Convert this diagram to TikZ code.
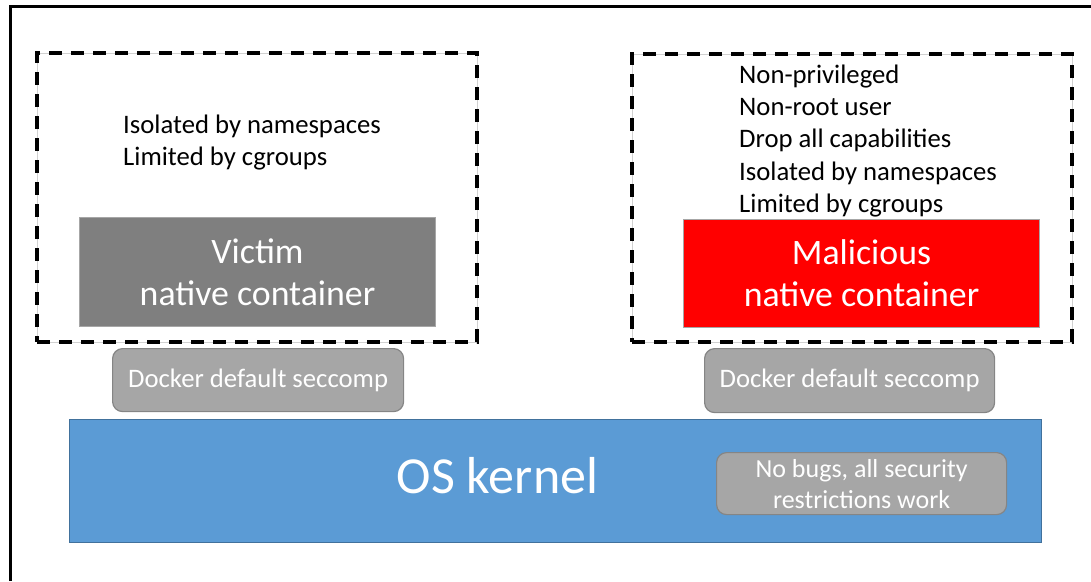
\documentclass[tikz,border=0pt]{standalone}
\usepackage{fontspec}
\setmainfont{Carlito}
\definecolor{victimgray}{HTML}{7F7F7F}
\definecolor{secgray}{HTML}{A6A6A6}
\definecolor{secedge}{HTML}{858585}
\definecolor{kernelblue}{HTML}{5B9BD5}
\definecolor{kerneledge}{HTML}{41719C}
\definecolor{alertred}{HTML}{FF0000}
\newcommand\lblsmall{\fontsize{26.7}{32}\selectfont}
\newcommand\lblbig{\fontsize{35.8}{42}\selectfont}
\newcommand\lblhuge{\fontsize{52}{60}\selectfont}
\begin{document}
\begin{tikzpicture}[x=1pt,y=-1pt,
  zone/.style={draw=black, line width=3.4pt, dash pattern=on 13pt off 9pt,
    preaction={draw=black!18, line width=0.7pt, solid},
    anchor=north west, inner sep=0pt, outer sep=0pt},
  container/.style={draw=black!35, line width=1pt, anchor=north west,
    minimum width=356pt, minimum height=108pt, inner sep=0pt,
    align=center, text=white, font=\lblbig},
  filter/.style={fill=secgray, draw=secedge, line width=1.2pt,
    rounded corners=10pt, anchor=north west, inner sep=0pt,
    align=center, text=white, font=\lblsmall},
  note/.style={anchor=base west, inner sep=0pt, font=\lblsmall, text=black}]
\useasboundingbox (0,0) rectangle (1091,581);

% frame on the top and left
\coordinate (frameB) at (10,581);
\coordinate (frameC) at (10,6);
\coordinate (frameR) at (1091,6);
\draw[line width=3pt] (frameB) -- (frameC) -- (frameR);

% victim side
\node[zone, minimum width=440pt, minimum height=289pt] (victimzone) at (37,53) {};
\node[note] (vn1) at (123,133) {Isolated by namespaces};
\node[note] (vn2) at (123,165) {Limited by cgroups};
\node[container, fill=victimgray, minimum height=109pt] (victim) at (79,217) {Victim\\native container};
\node[filter, minimum width=291pt, minimum height=63pt] (seccompL) at (112,348) {Docker default seccomp};

% attacker side
\node[zone, minimum width=440pt, minimum height=288pt] (attackzone) at (632,54) {};
\node[note] (mn1) at (739,83) {Non-privileged};
\node[note] (mn2) at (739,115) {Non-root user};
\node[note] (mn3) at (739,147.5) {Drop all capabilities};
\node[note] (mn4) at (739,180) {Isolated by namespaces};
\node[note] (mn5) at (739,212) {Limited by cgroups};
\node[container, fill=alertred] (malicious) at (683,219) {Malicious\\native container};
\node[filter, minimum width=290pt, minimum height=64pt] (seccompR) at (704,348) {Docker default seccomp};

% kernel
\node[fill=kernelblue, draw=kerneledge, line width=1pt, anchor=north west,
  minimum width=972pt, minimum height=123pt, inner sep=0pt] (kernel) at (69,419) {};
\node[anchor=base, inner sep=0pt, text=white, font=\lblhuge] (kernellabel) at (497.5,493) {OS kernel};
\node[filter, font=\fontsize{26}{31}\selectfont, minimum width=290pt, minimum height=62pt] (kernelnote) at (716,452) {No bugs, all security\\restrictions work};
\end{tikzpicture}
\end{document}
